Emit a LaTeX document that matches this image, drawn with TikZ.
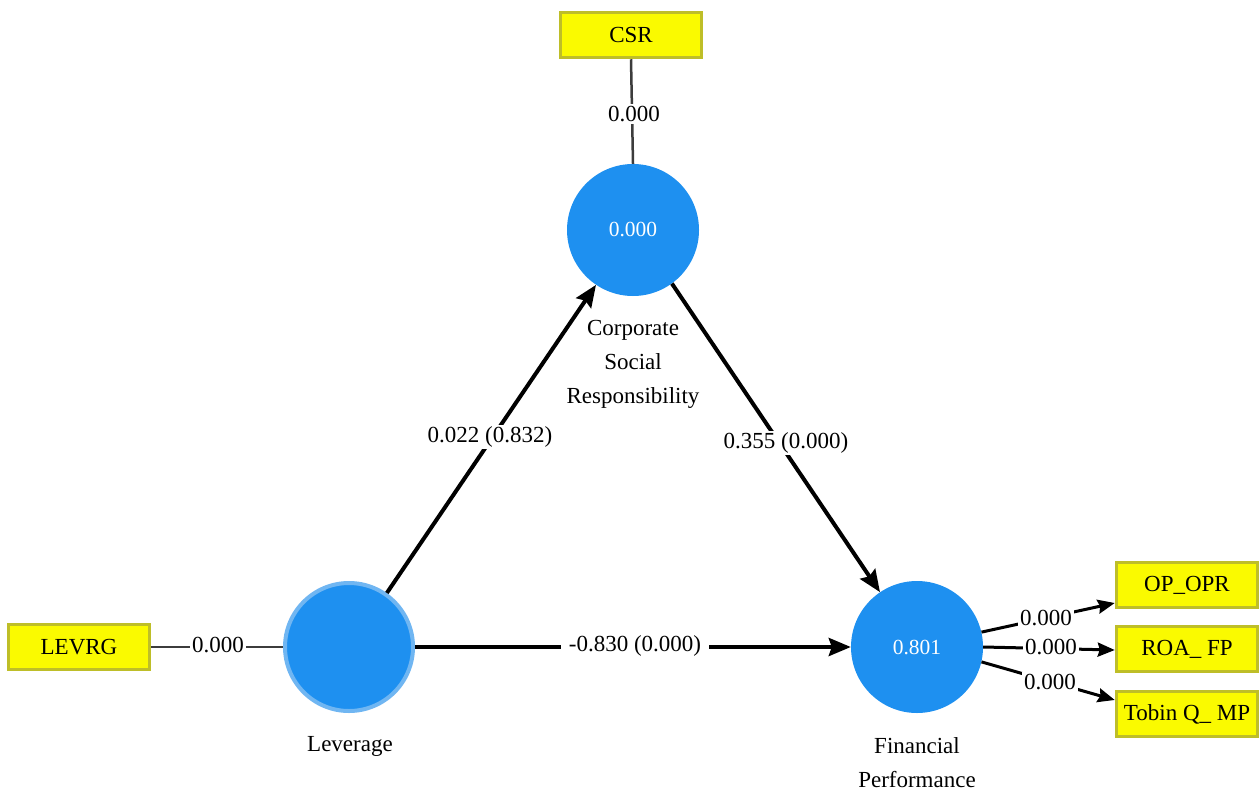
\documentclass[tikz,border=0pt]{standalone}
\usepackage{fontspec}
\setmainfont{Liberation Serif}
\usetikzlibrary{arrows.meta,calc}
\definecolor{lvblue}{RGB}{30,144,240}
\definecolor{lvring}{RGB}{112,182,242}
\definecolor{boxyellow}{RGB}{250,250,0}
\definecolor{boxedge}{RGB}{190,190,40}
\definecolor{thinline}{RGB}{60,60,60}
\tikzset{
  latent/.style={circle, fill=lvblue, minimum size=132pt, inner sep=0pt,
    text=white, font=\fontsize{21.5}{25}\selectfont},
  indicator/.style={rectangle, fill=boxyellow, draw=boxedge, line width=3.5pt,
    minimum width=141pt, minimum height=45pt, inner sep=0pt,
    font=\fontsize{23}{28}\selectfont},
  caption/.style={align=center, font=\fontsize{23}{34}\selectfont},
  coef/.style={fill=white, inner sep=2pt, font=\fontsize{23}{28}\selectfont},
  path/.style={line width=4pt, -{Stealth[length=22pt,width=18pt,inset=3pt]}},
  load/.style={line width=3pt, -{Stealth[length=17pt,width=14pt,inset=2pt]}},
  plain/.style={line width=2.5pt, thinline},
}
\begin{document}
\begin{tikzpicture}[x=1pt,y=-1pt]
\useasboundingbox[fill=white] (0,0) rectangle (1260,792);

% constructs
\node[latent] (csr) at (633,230) {0.000};
\node[latent, draw=lvring, line width=4pt, minimum size=128pt] (lev) at (349,647) {};
\node[latent] (fp) at (917,647) {0.801};

\node[caption] (csrlab) at (633,364) {Corporate\\Social\\Responsibility};
\node[caption] (levlab) at (350,746) {Leverage};
\node[caption] (fplab) at (917,763) {Financial\\Performance};

% indicators
\node[indicator] (csrbox) at (631,35) {CSR};
\node[indicator] (levbox) at (79,647) {LEVRG};
\node[indicator] (op) at (1187,585) {OP\_OPR};
\node[indicator] (roa) at (1187,649) {ROA\_ FP};
\node[indicator] (tob) at (1187,714) {Tobin Q\_ MP};

% reflective links to the single-item constructs
\draw[plain] (csrbox.south) -- (csr.north);
\node[coef] (wcsr) at (634,114) {0.000};
\draw[plain] (levbox.east) -- (lev.west);
\node[coef] (wlev) at (218,645) {0.000};

% structural paths
\draw[path] (lev.55) -- (csr.236);
\node[coef] (b1) at (490,437) {0.022 (0.832)};
\draw[path] (csr.-54) -- (fp.124);
\node[coef] (b2) at (786,443) {0.355 (0.000)};
\draw[path] (lev.east) -- (fp.west);
\node[coef, inner sep=8pt] (b3) at (635,646) {-0.830 (0.000)};

% outer loadings of financial performance
\draw[load] (fp.13) -- ([yshift=-18pt]op.west);
\node[coef] (l1) at (1046,618) {0.000};
\draw[load] (fp.east) -- ([yshift=-1pt]roa.west);
\node[coef] (l2) at (1051,647) {0.000};
\draw[load] (fp.-13) -- ([yshift=14pt]tob.west);
\node[coef] (l3) at (1050,682) {0.000};
\end{tikzpicture}
\end{document}
